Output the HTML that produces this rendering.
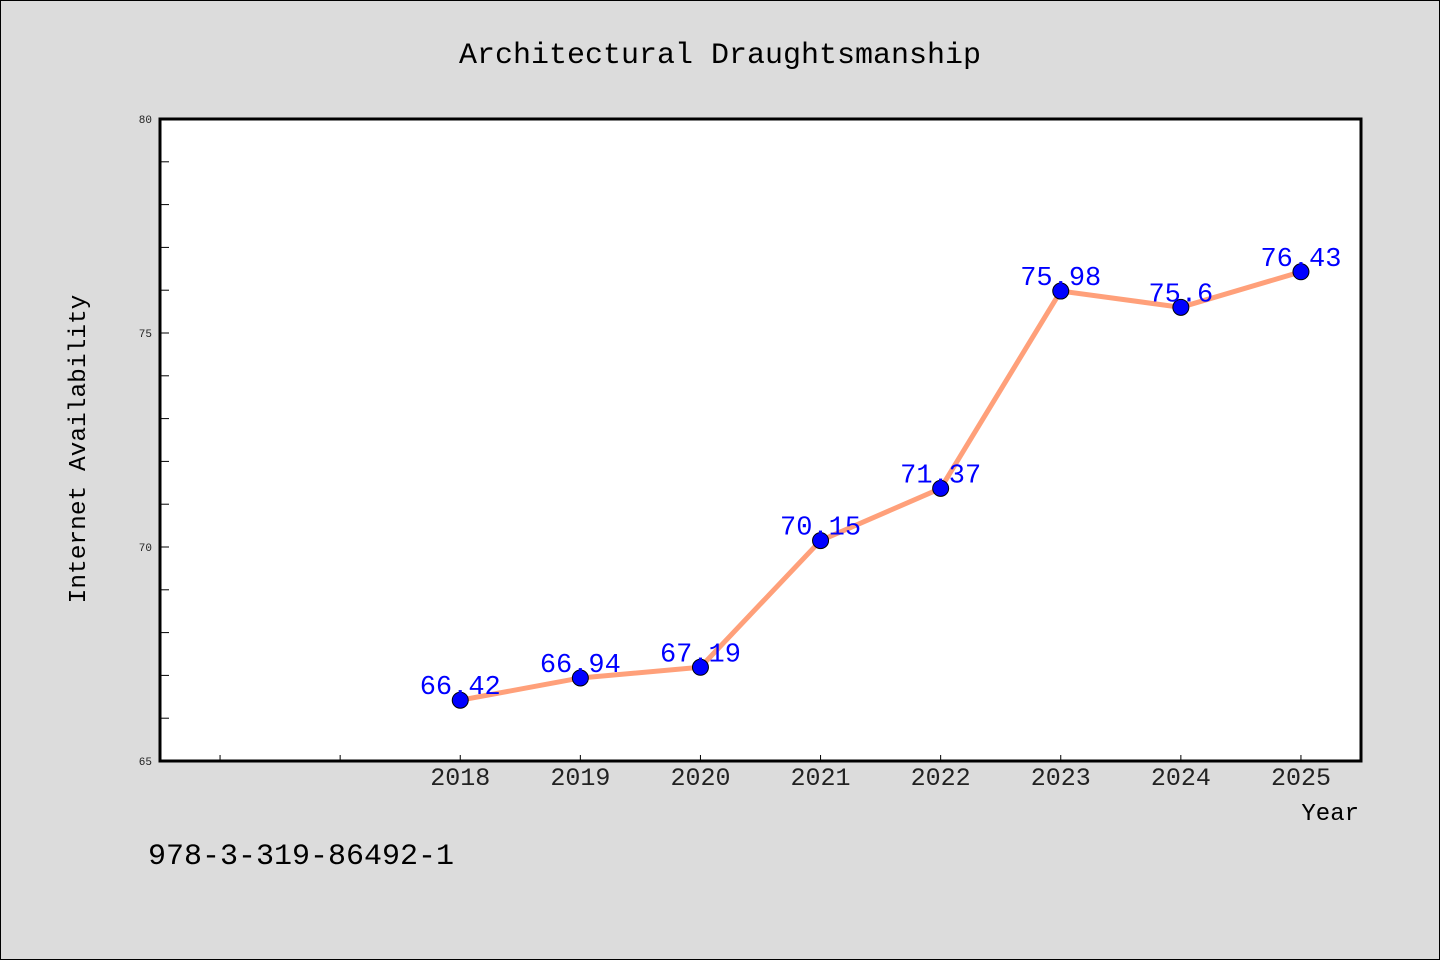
<!DOCTYPE html>
<html><head><meta charset="utf-8"><style>
body{margin:0;background:#dcdcdc;}
svg{display:block;font-family:"WenQuanYi Zen Hei Mono","Liberation Mono","DejaVu Sans Mono",monospace;}
</style></head><body>
<svg id="chart" width="1440" height="960">
<rect x="0.5" y="0.5" width="1439" height="959" fill="#dcdcdc" stroke="#000" stroke-width="1"/>
<text x="720" y="63" text-anchor="middle" font-size="30" fill="#000">Architectural Draughtsmanship</text>
<rect x="160" y="119" width="1201" height="642" fill="#fff"/>
<g id="axes"></g>
<g id="series"></g>
<rect x="160" y="119" width="1201" height="642" fill="none" stroke="#000" stroke-width="3"/>
<text transform="translate(85,449) rotate(-90)" text-anchor="middle" font-size="24.5" fill="#000">Internet Availability</text>
<text x="1359" y="820" text-anchor="end" font-size="24" fill="#000">Year</text>
<text x="148" y="864" font-size="30" fill="#000">978-3-319-86492-1</text>
</svg>
<script>
const years=[2018,2019,2020,2021,2022,2023,2024,2025];
const values=[66.42,66.94,67.19,70.15,71.37,75.98,75.6,76.43];
const labels=["66.42","66.94","67.19","70.15","71.37","75.98","75.6","76.43"];
const yTicks=[65,70,75,80];
const NS="http://www.w3.org/2000/svg";
const x0=160,x1=1361,y0=761,y1=119,xmin=2015.5,xmax=2025.5,ymin=65,ymax=80;
const xs=v=>x0+(v-xmin)/(xmax-xmin)*(x1-x0);
const ys=v=>y0-(v-ymin)/(ymax-ymin)*(y0-y1);
function mk(t,a,p){const e=document.createElementNS(NS,t);for(const k in a)e.setAttribute(k,a[k]);p.appendChild(e);return e;}
const ax=document.getElementById('axes'),se=document.getElementById('series');
for(let v=ymin+1;v<ymax;v++){
 const l=mk('line',{x1:x0,x2:x0+9,y1:ys(v),y2:ys(v),stroke:'#000','stroke-width':1},ax);
 
 
}
yTicks.forEach(v=>{
 const t=mk('text',{x:x0-8,y:ys(v)+4,'text-anchor':'end','font-size':11,fill:'#222'},ax);t.textContent=v;
 
 
});
for(let yr=2016;yr<=2025;yr++){
 const l=mk('line',{x1:xs(yr),x2:xs(yr),y1:y0,y2:y0-6,stroke:'#000','stroke-width':1},ax);
 
 
}
years.forEach(yr=>{
 const t=mk('text',{x:xs(yr),y:785,'text-anchor':'middle','font-size':25,fill:'#222'},ax);t.textContent=yr;
 
 
});
const pl=mk('polyline',{points:years.map((y,i)=>xs(y)+','+ys(values[i])).join(' '),fill:'none',stroke:'#ffa07a','stroke-width':5},se);


years.forEach((y,i)=>{
 const c=mk('circle',{cx:xs(y),cy:ys(values[i]),r:8,fill:'#0000ff',stroke:'#000','stroke-width':1},se);
 
 
 const t=mk('text',{x:xs(y),y:ys(values[i])-6,'text-anchor':'middle','font-size':27,fill:'#0000ff'},se);t.textContent=labels[i];
 
 
});
</script>
</body></html>
